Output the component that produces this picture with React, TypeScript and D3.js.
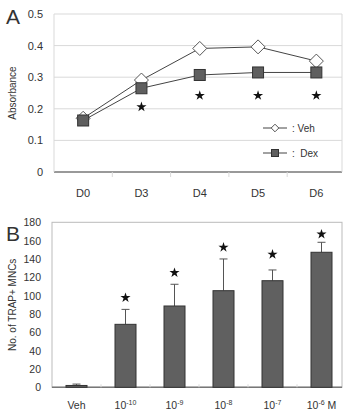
import * as d3 from 'd3';
import { type FC } from 'react';

// Panel A: absorbance time course
const days = ['D0', 'D3', 'D4', 'D5', 'D6'];
const vehValues = [0.17, 0.291, 0.391, 0.396, 0.351];
const dexValues = [0.163, 0.265, 0.307, 0.315, 0.315];
const starsA = [null, 0.206, 0.242, 0.242, 0.242];
const ticksA = [0, 0.1, 0.2, 0.3, 0.4, 0.5];

// Panel B: TRAP+ MNC counts
const doses = ['Veh', '-10', '-9', '-8', '-7', '-6'];
const counts = [2, 68.7, 88.7, 105.4, 116.3, 147.3];
const countErrors = [1.5, 16.3, 23.7, 34.6, 11.7, 10.9];
const starsB = [null, 97.7, 125, 152.7, 145, 167];
const ticksB = [0, 20, 40, 60, 80, 100, 120, 140, 160, 180];

const FONT = "'Liberation Sans', Arial, Helvetica, sans-serif";
const TEXT = '#333';
const GRID = '#d9d9d9';
const AXIS = '#777';

const starPath = d3.symbol().type(d3.symbolStar).size(32)() as string;

const PanelA: FC = () => {
  const left = 54;
  const right = 342;
  const top = 14;
  const bottom = 172;
  const x = d3.scaleBand().domain(days).range([left, 345.5]);
  const y = d3.scaleLinear().domain([0, 0.5]).range([bottom, top]);
  const cx = (d: string) => (x(d) || 0) + x.bandwidth() / 2;
  const line = d3
    .line<number>()
    .x((_, i) => cx(days[i]))
    .y((v) => y(v));
  const diamond = (s: number) => `M0,${-s}L${s},0L0,${s}L${-s},0Z`;

  return (
    <g fontFamily={FONT}>
      <text x={6} y={24} fontSize={21} fill={TEXT} fontWeight={300}>
        A
      </text>
      {ticksA.map((t) => (
        <g key={t}>
          <line x1={left} x2={right} y1={y(t)} y2={y(t)} stroke={t === 0 ? AXIS : GRID} strokeWidth={t === 0 ? 1.5 : 1} />
          <text x={43} y={y(t) + 4} textAnchor="end" fontSize={11} fill={TEXT}>
            {t === 0 ? '0' : t.toFixed(1)}
          </text>
        </g>
      ))}
      <line x1={left} x2={left} y1={top} y2={bottom} stroke={GRID} />
      <line x1={right} x2={right} y1={top} y2={bottom} stroke={GRID} />
      {days.slice(1).map((d) => (
        <line key={d} x1={x(d)} x2={x(d)} y1={bottom} y2={bottom + 5} stroke={GRID} />
      ))}
      {days.map((d) => (
        <text key={d} x={cx(d)} y={197} textAnchor="middle" fontSize={11} fill={TEXT}>
          {d}
        </text>
      ))}
      <text
        transform={`translate(16,${(top + bottom) / 2}) rotate(-90)`}
        textAnchor="middle"
        fontSize={10}
        fill={TEXT}
      >
        Absorbance
      </text>
      <path d={line(vehValues) || ''} fill="none" stroke="#444" strokeWidth={1} />
      <path d={line(dexValues) || ''} fill="none" stroke="#444" strokeWidth={1} />
      {vehValues.map((v, i) => (
        <path key={i} d={diamond(7)} transform={`translate(${cx(days[i])},${y(v)})`} fill="#fff" stroke="#555" />
      ))}
      {dexValues.map((v, i) => (
        <rect key={i} x={cx(days[i]) - 5.5} y={y(v) - 5.5} width={11} height={11} fill="#5f5f5f" stroke="#333" />
      ))}
      {starsA.map((v, i) =>
        v == null ? null : (
          <path key={i} d={starPath} transform={`translate(${cx(days[i])},${y(v)})`} fill="#111" />
        ),
      )}
      {/* legend */}
      <line x1={263} x2={287} y1={128} y2={128} stroke="#444" />
      <path d={diamond(3.8)} transform="translate(275,128)" fill="#fff" stroke="#555" />
      <text x={292} y={132} fontSize={10} fill={TEXT}>
        : Veh
      </text>
      <line x1={263} x2={287} y1={153} y2={153} stroke="#444" />
      <rect x={271.5} y={149.5} width={7} height={7} fill="#5f5f5f" stroke="#333" />
      <text x={292} y={157} fontSize={10} fill={TEXT}>
        :&#160; Dex
      </text>
    </g>
  );
};

const PanelB: FC = () => {
  const left = 52;
  const right = 342;
  const top = 222.3;
  const bottom = 387.3;
  const x = d3.scaleBand().domain(doses).range([left, 346]);
  const y = d3.scaleLinear().domain([0, 180]).range([bottom, top]);
  const cx = (d: string) => (x(d) || 0) + x.bandwidth() / 2;
  const barW = 21;

  return (
    <g fontFamily={FONT}>
      <text x={6} y={241} fontSize={21} fill={TEXT} fontWeight={300}>
        B
      </text>
      <rect x={left} y={top} width={right - left} height={bottom - top} fill="none" stroke="#bbb" />
      <line x1={left} x2={right} y1={bottom} y2={bottom} stroke={AXIS} strokeWidth={1.5} />
      {ticksB.map((t) => (
        <text key={t} x={41} y={y(t) + 4} textAnchor="end" fontSize={10.5} fill={TEXT}>
          {t}
        </text>
      ))}
      {doses.slice(1).map((d) => (
        <line key={d} x1={x(d)} x2={x(d)} y1={bottom} y2={bottom - 3} stroke={GRID} />
      ))}
      <text
        transform={`translate(16,${(top + bottom) / 2}) rotate(-90)`}
        textAnchor="middle"
        fontSize={10}
        fill={TEXT}
      >
        No. of TRAP+ MNCs
      </text>
      {counts.map((v, i) => {
        const c = cx(doses[i]);
        const e = v + countErrors[i];
        return (
          <g key={i}>
            <line x1={c} x2={c} y1={y(v)} y2={y(e)} stroke="#555" />
            <line x1={c - 4} x2={c + 4} y1={y(e)} y2={y(e)} stroke="#555" />
            <rect x={c - barW / 2} y={y(v)} width={barW} height={bottom - y(v)} fill="#606060" stroke="#333" />
          </g>
        );
      })}
      {starsB.map((v, i) =>
        v == null ? null : (
          <path key={i} d={starPath} transform={`translate(${cx(doses[i])},${y(v)})`} fill="#111" />
        ),
      )}
      {doses.map((d, i) => (
        <text key={d} x={cx(d)} y={409} textAnchor="middle" fontSize={10.5} fill={TEXT}>
          {d === 'Veh' ? (
            'Veh'
          ) : (
            <>
              10
              <tspan fontSize={7} dy={-4}>
                {d}
              </tspan>
              {i === doses.length - 1 ? (
                <tspan dy={4} fontSize={10.5}>
                  {' M'}
                </tspan>
              ) : null}
            </>
          )}
        </text>
      ))}
    </g>
  );
};

const App: FC = () => (
  <svg
    width={351}
    height={410}
    style={{ position: 'absolute', left: 0, top: 0, background: '#fff' }}
  >
    <rect width={351} height={410} fill="#fff" />
    <PanelA />
    <PanelB />
  </svg>
);

export default App;
